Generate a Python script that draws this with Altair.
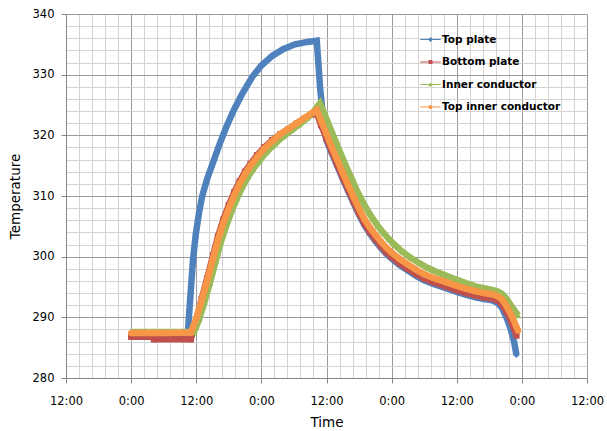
import altair as alt
import pandas as pd

series_names = ["Top plate", "Bottom plate", "Inner conductor", "Top inner conductor"]
series_colors = ["#4F81BD", "#C0504D", "#9BBB59", "#F79646"]
series_shapes = ["diamond", "square", "triangle-up", "circle"]

# hours counted from the first "12:00" on the time axis
top_plate_hours = [12, 16, 20, 22.5, 22.6, 23.0, 23.4, 23.9, 24.5, 25.1, 26.0, 27.2, 28.4, 29.6, 31.0,
                   32.5, 34.3, 36.0, 38.0, 40.0, 42.2, 44.5, 46.2, 46.5, 46.8, 47.1, 47.5, 48, 49, 50,
                   51, 52, 53, 54, 55, 56, 57, 58, 59, 60, 61.5, 63, 64.6, 66, 67.7, 70, 72, 73.8,
                   75.5, 77, 78.5, 79.5, 80.3, 81.2, 82.0, 82.6, 83.0]
top_plate_temps = [287.5, 287.5, 287.5, 287.5, 289.5, 294.5, 299.5, 303.6, 307.2, 310.0, 312.8, 315.8,
                   318.8, 321.5, 324.3, 326.9, 329.6, 331.5, 333.1, 334.2, 335.0, 335.4, 335.6, 332.0,
                   328.0, 325.3, 321.3, 319.2, 317.0, 314.9, 312.8, 310.8, 308.8, 306.9, 305.2, 303.8,
                   302.6, 301.5, 300.5, 299.7, 298.6, 297.7, 296.8, 296.1, 295.5, 294.8, 294.2, 293.7,
                   293.3, 293.0, 292.8, 292.4, 291.6, 289.9, 287.9, 285.8, 283.8]

bottom_plate_hours = [12, 16, 16.2, 23.0, 24.0, 25.0, 26.0, 27.1, 28.0, 29.0, 30.0, 31.0, 32.0, 33.0,
                      34.0, 35.2, 36.5, 38.0, 39.5, 41.0, 42.5, 44.0, 45.2, 46.1, 47, 48, 49, 50, 51,
                      52, 53, 54, 55, 56, 57, 58, 59, 60, 61.5, 63, 64.6, 66, 67.7, 70, 72, 73.8,
                      75.5, 77, 78.5, 79.5, 80.3, 81.2, 82.2, 83.0]
bottom_plate_temps = [286.8, 286.8, 286.4, 286.4, 289.6, 293.0, 296.4, 300.2, 303.3, 306.1, 308.5,
                      310.6, 312.4, 314.0, 315.3, 316.7, 318.0, 319.2, 320.2, 321.0, 321.9, 322.8,
                      323.4, 323.9, 321.7, 319.5, 317.3, 315.2, 313.1, 311.1, 309.1, 307.2, 305.5,
                      304.1, 302.9, 301.8, 300.8, 300.0, 298.9, 298.0, 297.1, 296.4, 295.8, 295.1,
                      294.5, 294.0, 293.6, 293.3, 293.1, 292.8, 292.2, 290.9, 289.0, 287.0]

inner_hours = [12, 18, 23.6, 24.5, 25.5, 26.5, 27.6, 28.5, 29.5, 30.5, 31.5, 32.5, 33.5, 34.5, 35.7,
               37, 38.5, 40, 41.5, 43, 44.5, 45.7, 46.8, 47.5, 48.5, 49.5, 50.5, 51.5, 52.5, 53.5,
               54.5, 55.5, 56.5, 57.5, 58.5, 59.5, 60.5, 62, 63.5, 65, 66.5, 68, 70, 72, 73.8, 75.5,
               77, 78.5, 79.5, 80.3, 81.2, 82.2, 83.0, 83.3]
inner_temps = [287.6, 287.6, 287.6, 289.6, 292.5, 295.6, 299.3, 302.3, 305.0, 307.5, 309.6, 311.5,
               313.1, 314.5, 315.9, 317.3, 318.6, 319.8, 320.8, 321.8, 322.9, 324.0, 325.3, 323.8,
               321.6, 319.4, 317.2, 315.1, 313.1, 311.1, 309.3, 307.7, 306.3, 305.0, 303.9, 302.9,
               302.0, 300.8, 299.8, 299.0, 298.2, 297.6, 296.9, 296.2, 295.6, 295.1, 294.8, 294.5,
               294.3, 293.9, 293.0, 291.7, 290.7, 290.3]

top_inner_hours = [12, 18, 23.0, 24.0, 25.0, 26.0, 27.1, 28.0, 29.0, 30.0, 31.0, 32.0, 33.0, 34.0,
                   35.2, 36.5, 38.0, 39.5, 41.0, 42.5, 44.0, 45.2, 46.2, 47, 48, 49, 50, 51, 52, 53,
                   54, 55, 56, 57, 58, 59, 60, 61.5, 63, 64.6, 66, 67.7, 70, 72, 73.8, 75.5, 77,
                   78.5, 79.5, 80.3, 81.2, 82.2, 83.0, 83.3]
top_inner_temps = [287.4, 287.4, 287.5, 289.8, 292.8, 296.0, 299.7, 302.8, 305.6, 308.0, 310.1, 312.0,
                   313.6, 315.0, 316.4, 317.8, 319.0, 320.2, 321.1, 322.0, 322.9, 323.6, 324.2, 322.4,
                   320.2, 318.0, 315.9, 313.8, 311.8, 309.8, 307.9, 306.2, 304.8, 303.6, 302.5, 301.5,
                   300.7, 299.6, 298.7, 297.8, 297.1, 296.5, 295.8, 295.2, 294.7, 294.3, 294.0, 293.8,
                   293.5, 293.0, 291.8, 290.1, 288.4, 287.8]

x_major_hours = [0, 12, 24, 36, 48, 60, 72, 84, 96]
x_tick_labels = ["12:00", "0:00", "12:00", "0:00", "12:00", "0:00", "12:00", "0:00", "12:00"]
x_grid_hours = [round(i * 2.4, 2) for i in range(41)]
y_grid_values = list(range(280, 341, 2))

frames = []
for name, hrs, tmps in [
    (series_names[0], top_plate_hours, top_plate_temps),
    (series_names[1], bottom_plate_hours, bottom_plate_temps),
    (series_names[2], inner_hours, inner_temps),
    (series_names[3], top_inner_hours, top_inner_temps),
]:
    frames.append(pd.DataFrame({"series": name, "hour": hrs, "temp": tmps}))
data = pd.concat(frames, ignore_index=True)

FONT = "DejaVu Sans"
label_arr = "[" + ",".join("'%s'" % s for s in x_tick_labels) + "]"
major_x_test = "abs(datum.value/12 - round(datum.value/12)) < 0.01"

x_enc = alt.X(
    "hour:Q",
    scale=alt.Scale(domain=[0, 96], nice=False, zero=False),
    axis=alt.Axis(
        title="Time",
        values=x_grid_hours,
        labelExpr=f"{major_x_test} ? {label_arr}[round(datum.value/12)] : ''",
        grid=True,
        gridColor={"condition": {"test": major_x_test, "value": "#9a9a9a"}, "value": "#d4d4d4"},
        tickOpacity={"condition": {"test": major_x_test, "value": 1}, "value": 0},
        tickSize=5,
        tickColor="#868686",
        domainColor="#868686",
        labelFont=FONT,
        labelFontSize=11.5,
        labelColor="#000000",
        labelPadding=12,
        labelFlush=False,
        titleFont=FONT,
        titleFontSize=13.5,
        titleFontWeight="normal",
        titleColor="#000000",
        titlePadding=9,
    ),
)
y_enc = alt.Y(
    "temp:Q",
    scale=alt.Scale(domain=[280, 340], nice=False, zero=False),
    axis=alt.Axis(
        title="Temperature",
        values=y_grid_values,
        labelExpr="datum.value % 10 === 0 ? datum.label : ''",
        grid=True,
        gridColor={"condition": {"test": "datum.value % 10 === 0", "value": "#9a9a9a"}, "value": "#d4d4d4"},
        tickOpacity={"condition": {"test": "datum.value % 10 === 0", "value": 1}, "value": 0},
        tickSize=5,
        tickColor="#868686",
        domainColor="#868686",
        labelFont=FONT,
        labelFontSize=11.5,
        labelColor="#000000",
        labelPadding=7,
        titleFont=FONT,
        titleFontSize=13.5,
        titleFontWeight="normal",
        titleColor="#000000",
        titlePadding=10,
    ),
)

color_scale = alt.Scale(domain=series_names, range=series_colors)

bar = "M-1,-0.06L1,-0.06L1,0.06L-1,0.06Z"
legend_paths = [
    bar + "M0,-0.25L0.25,0L0,0.25L-0.25,0Z",
    bar + "M-0.19,-0.19L0.19,-0.19L0.19,0.19L-0.19,0.19Z",
    bar + "M0,-0.22L0.22,0.17L-0.22,0.17Z",
    bar + "M-0.2,0A0.2,0.2 0 1,1 0.2,0A0.2,0.2 0 1,1 -0.2,0Z",
]

layers = []
for name, shape in zip(series_names, series_shapes):
    base = alt.Chart(data).transform_filter(alt.datum.series == name)
    layers.append(
        base.mark_line(strokeWidth=6.5).encode(
            x=x_enc, y=y_enc, color=alt.Color("series:N", scale=color_scale, legend=None)
        )
    )
    layers.append(
        base.mark_point(shape=shape, filled=True, size=40, opacity=1).encode(
            x=x_enc, y=y_enc, color=alt.Color("series:N", scale=color_scale, legend=None)
        )
    )

legend_layer = (
    alt.Chart(data)
    .transform_filter("datum.hour < -1000")
    .mark_point(filled=True, opacity=1)
    .encode(
        x=x_enc,
        y=y_enc,
        color=alt.Color(
            "series:N",
            scale=color_scale,
            legend=alt.Legend(
                title=None,
                orient="none",
                legendX=354,
                legendY=15,
                padding=0,
                symbolSize=420,
                symbolStrokeWidth=0,
                symbolOpacity=1,
                labelFont=FONT,
                labelFontSize=10.5,
                labelFontWeight="bold",
                labelColor="#000000",
                labelOffset=1,
                rowPadding=6.5,
                labelLimit=300,
            ),
        ),
        shape=alt.Shape("series:N", scale=alt.Scale(domain=series_names, range=legend_paths)),
    )
)
layers.append(legend_layer)

chart = (
    alt.layer(*layers)
    .resolve_legend(color="independent", shape="independent")
    .properties(
        width=521,
        height=364,
        autosize=alt.AutoSizeParams(type="none"),
        padding={"left": 66, "top": 14, "right": 20, "bottom": 53},
        background="#ffffff",
    )
    .configure_view(stroke=None)
)

chart.save("out.html", embed_options={"renderer": "svg", "actions": False})
